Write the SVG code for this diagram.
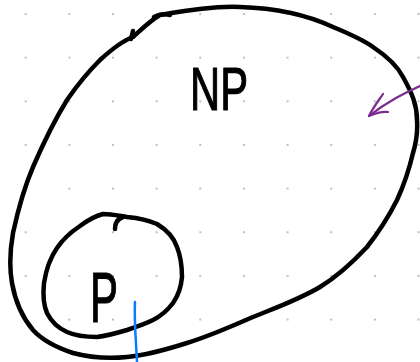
<svg xmlns="http://www.w3.org/2000/svg" width="420" height="362" viewBox="0 0 420 362">
<defs>
<style>
.ink{fill:none;stroke:#000;stroke-width:4.5;stroke-linecap:round;stroke-linejoin:round}
.lbl{font-family:"Liberation Sans","DejaVu Sans",sans-serif;fill:#000;stroke:#000;stroke-width:1.2;stroke-linejoin:round}
.dot{fill:#b0b0b0}
</style>
<pattern id="grid" x="25.7" y="14" width="43.65" height="43.65" patternUnits="userSpaceOnUse">
<circle class="dot" cx="0" cy="0" r="1.1"/>
<circle class="dot" cx="43.65" cy="0" r="1.1"/>
<circle class="dot" cx="0" cy="43.65" r="1.1"/>
<circle class="dot" cx="43.65" cy="43.65" r="1.1"/>
</pattern>
</defs>
<rect width="420" height="362" fill="#fff"/>
<rect width="420" height="362" fill="url(#grid)"/>
<g id="NP">
<path class="ink" d="M160,15 C190,10 215,6 240,7 C275,8 305,14 333,27 C350,34 362,39 373,47 C388,57 398,67 403,77 C412,93 417,105 417,120 C418,133 416,143 413,153 C409,170 404,185 397,200 C388,218 378,233 367,247 C352,263 338,276 320,287 C298,300 275,308 253,317 C230,327 210,336 187,343 C165,350 147,355 127,357 C107,359 88,357 73,353 C55,347 42,340 33,330 C22,317 15,300 12,283 C9,266 10,250 13,233 C18,210 24,188 33,167 C43,144 54,121 67,100 C78,84 89,71 100,60 C112,49 122,41 133,37 C143,28 151,20 160,15 Z"/>
<path class="ink" d="M131,39 L133,31"/>
<path class="ink" d="M154,17 C160,14 166,14 170,15" stroke-width="5.5"/>
<text class="lbl" x="190" y="110" font-size="62" textLength="58" lengthAdjust="spacingAndGlyphs">NP</text>
</g>
<g id="P">
<path class="ink" d="M103,214 C112,214 120,216 127,217 C138,218 148,220 157,224 C167,230 174,238 177,247 C181,257 182,267 182,277 C181,288 178,296 173,303 C167,311 161,316 153,320 C145,324 136,327 127,330 C117,333 107,336 97,337 C86,337 76,336 67,332 C58,328 51,321 47,313 C43,304 43,293 44,283 C46,270 50,258 57,248 C63,239 71,232 80,226 C88,220 95,216 103,214 Z"/>
<path class="ink" d="M115,229 C115,224 117,219 123,217"/>
<text class="lbl" x="90" y="322" font-size="70" textLength="28" lengthAdjust="spacingAndGlyphs">P</text>
</g>
<g id="connectors">
<path d="M135,302 C134,320 136,340 137,362" fill="none" stroke="#0a7cff" stroke-width="2.5" stroke-linecap="round"/>
<path d="M420,86 C405,93 388,101 369,116" fill="none" stroke="#7b2a8f" stroke-width="2.2" stroke-linecap="round"/>
<path d="M383,94 C379,100 374,106 369,116 C376,113 382,111 388,112" fill="none" stroke="#7b2a8f" stroke-width="2.2" stroke-linecap="round" stroke-linejoin="round"/>
</g>
</svg>
